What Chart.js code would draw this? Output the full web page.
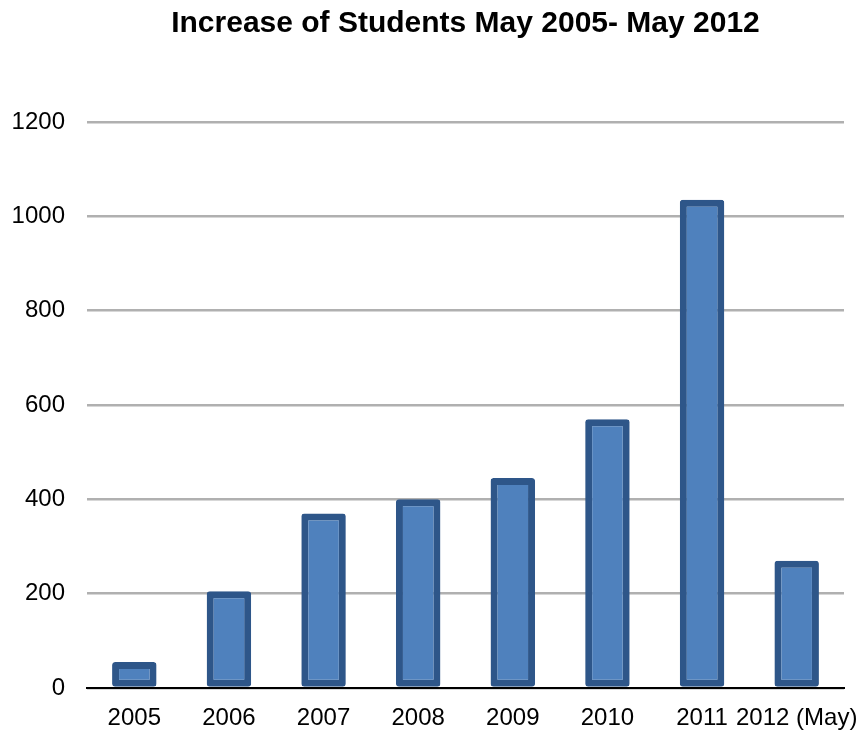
<!DOCTYPE html>
<html>
<head>
<meta charset="utf-8">
<script src="https://cdn.jsdelivr.net/npm/chart.js@4/dist/chart.umd.min.js"></script>
<style>
  html, body { margin: 0; padding: 0; background: #fff; }
  #wrap { width: 863px; height: 737px; }
</style>
</head>
<body>
<div id="wrap"><canvas id="myChart" width="863" height="737"></canvas></div>
<script>
const years = ['2005', '2006', '2007', '2008', '2009', '2010', '2011', '2012 (May)'];
const students = [55, 205, 370, 400, 445, 570, 1035, 270];
const yTicks = [0, 200, 400, 600, 800, 1000, 1200];

const data = {
  labels: years,
  datasets: [{
    label: 'Students',
    data: students,
    backgroundColor: '#4f81bd',
    borderColor: '#2e5689',
    borderWidth: 7,
    borderRadius: 3,
    borderSkipped: false,
    barPercentage: 1,
    categoryPercentage: 0.47
  }]
};

const config = {
  type: 'bar',
  data: data,
  options: {
    responsive: false,
    animation: false,
    layout: { padding: { left: 10, right: 19, top: 0, bottom: 4 } },
    plugins: {
      legend: { display: false },
      tooltip: { enabled: false },
      title: {
        display: true,
        fullSize: false, // centre over the plot area, not the whole canvas
        text: 'Increase of Students May 2005- May 2012',
        color: '#000',
        font: { family: 'Liberation Sans', size: 30, weight: 'bold' },
        padding: { top: 6, bottom: 80 }
      }
    },
    scales: {
      x: {
        grid: { display: false, drawTicks: false },
        border: { display: true, color: '#000', width: 2 },
        afterFit: scale => {
          scale.height = 45;
          // let the long last label hang past the plot edge
          scale.paddingLeft = 0;
          scale.paddingRight = 0;
        },
        ticks: {
          color: '#000',
          font: { family: 'Liberation Sans', size: 24 },
          padding: 16,
          maxRotation: 0,
          autoSkip: false
        }
      },
      y: {
        min: 0,
        max: 1200,
        afterBuildTicks: axis => { axis.ticks = yTicks.map(v => ({ value: v })); },
        afterFit: scale => { scale.width = 77; },
        grid: { color: '#b0b0b0', lineWidth: 2.5, drawTicks: false },
        border: { display: false },
        ticks: {
          color: '#000',
          font: { family: 'Liberation Sans', size: 24 },
          padding: 22,
          callback: v => String(v)
        }
      }
    }
  }
};

const ctx = document.getElementById('myChart');
const myChart = new Chart(ctx, config);
</script>
</body>
</html>
